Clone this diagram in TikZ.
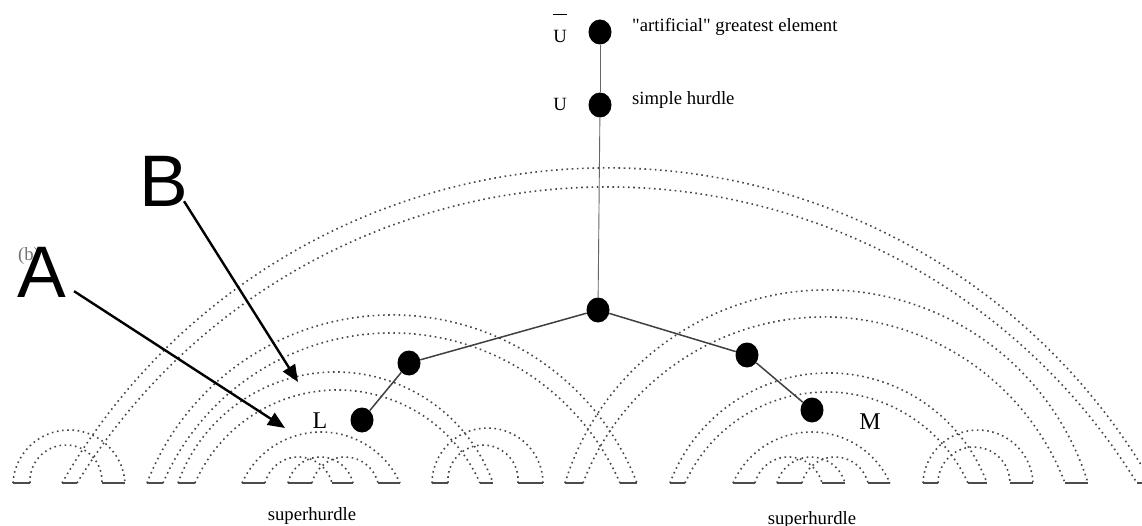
\documentclass[tikz,border=0pt]{standalone}
\usepackage{fontspec}
\setmainfont{Liberation Serif}
\newfontfamily\rawserif{Liberation Serif}[Ligatures=TeXOff]
\newfontfamily\arialf{Liberation Sans}
\usetikzlibrary{shapes.geometric,arrows.meta}

% dotted arch between baseline points x1,x2 with height h (all in px)
\newcommand{\harc}[3]{%
  \pgfmathsetmacro{\hw}{(#2-#1)/200}%
  \pgfmathsetmacro{\hh}{#3/100}%
  \pgfmathsetmacro{\rr}{(\hw*\hw+\hh*\hh)/(2*\hh)}%
  \pgfmathsetmacro{\th}{atan2(\hw,\rr-\hh)}%
  \pgfmathsetmacro{\rpx}{\rr*100}%
  \draw[hurdle] (#1,483) arc[start angle=270-\th, end angle=270+\th, radius=\rpx];}
\newcommand{\seg}[2]{\draw[segline] (#1,483) -- (#2,483);}

\tikzset{
  hurdle/.style={black!72, line width=1.6pt, dash pattern=on 1.6pt off 3.6pt},
  segline/.style={black!70, line width=2pt},
  blob/.style={ellipse, fill=black, draw=none, minimum width=23pt, minimum height=25pt, inner sep=0pt},
  thinedge/.style={black!60, line width=0.9pt},
  treeedge/.style={black!75, line width=1.5pt},
  txt/.style={inner sep=0pt, font=\fontsize{18.7}{20}\selectfont},
  lm/.style={inner sep=0pt, font=\fontsize{24}{26}\selectfont},
  big/.style={inner sep=0pt, font=\arialf\fontsize{73}{80}\selectfont},
  pointer/.style={line width=2.4pt, -{Triangle[length=17pt,width=14pt]}}
}

\begin{document}
\begin{tikzpicture}[x=1pt,y=-1pt]
\useasboundingbox (0,0) rectangle (1142,526);
\clip (0,0) rectangle (1142,526);
\fill[white] (0,0) rectangle (1142,526);

% baseline segments
\seg{13}{30}\seg{62}{77}\seg{102}{125}\seg{147}{163}\seg{178}{195}
\seg{242}{265}\seg{288}{312}\seg{332}{353}\seg{378}{400}
\seg{432}{448}\seg{480}{493}\seg{518}{543}\seg{565}{583}\seg{620}{637}
\seg{670}{685}\seg{733}{755}\seg{777}{802}\seg{822}{845}\seg{868}{890}
\seg{923}{938}\seg{968}{987}\seg{1010}{1033}\seg{1065}{1088}\seg{1137}{1152}

% arches
\harc{13}{125}{53}\harc{30}{102}{38}
\harc{62}{1152}{315}\harc{77}{1137}{296}
\harc{147}{637}{168}\harc{163}{620}{150}
\harc{178}{493}{111}\harc{195}{480}{93}
\harc{242}{400}{51}\harc{265}{332}{26}\harc{288}{353}{26}\harc{312}{378}{26}
\harc{432}{543}{55}\harc{448}{518}{38}
\harc{565}{1088}{193}\harc{583}{1065}{166}
\harc{670}{987}{110}\harc{685}{968}{91}
\harc{733}{890}{51}\harc{755}{822}{26}\harc{777}{845}{26}\harc{802}{868}{26}
\harc{923}{1033}{53}\harc{938}{1010}{36}

% tree
\node[blob] (Ubar) at (600,32) {};
\node[blob] (U) at (600,105) {};
\node[blob] (C) at (598,310) {};
\node[blob] (P) at (409,363) {};
\node[blob] (Ln) at (362,420) {};
\node[blob] (Q) at (747,355) {};
\node[blob] (Mn) at (812,410) {};
\draw[thinedge] (Ubar) -- (U);
\draw[thinedge] (U) -- (C);
\draw[treeedge] (C) -- (P);
\draw[treeedge] (P) -- (Ln);
\draw[treeedge] (C) -- (Q);
\draw[treeedge] (Q) -- (Mn);

% labels
\node[txt, anchor=base] (ubarlab) at (560,43) {\(\overline{\rule{0pt}{27pt}\hbox{U}}\)};
\node[txt, anchor=base] (ulab) at (560,111) {U};
\node[txt, anchor=base west] (artlab) at (632,32) {{\rawserif"}artificial{\rawserif"} greatest element};
\node[txt, anchor=base west] (simlab) at (632,105) {simple hurdle};
\node[lm] (Llab) at (320,421) {L};
\node[lm] (Mlab) at (870,422) {M};
\node[txt, anchor=base] (sh1) at (312,520) {superhurdle};
\node[txt, anchor=base] (sh2) at (812,524) {superhurdle};
\node[txt, black!55, anchor=base] (blab) at (29,261) {(b)};

% A and B pointers
\node[big, anchor=base] (A) at (41.5,298) {A};
\node[big, anchor=base] (B) at (163.5,207) {B};
\coordinate (Atip) at (285,428);
\coordinate (Btip) at (298,382);
\draw[pointer] ([shift={(8,-7)}]A.south east) -- (Atip);
\draw[pointer] ([shift={(-4,-6)}]B.south east) -- (Btip);
\end{tikzpicture}
\end{document}
